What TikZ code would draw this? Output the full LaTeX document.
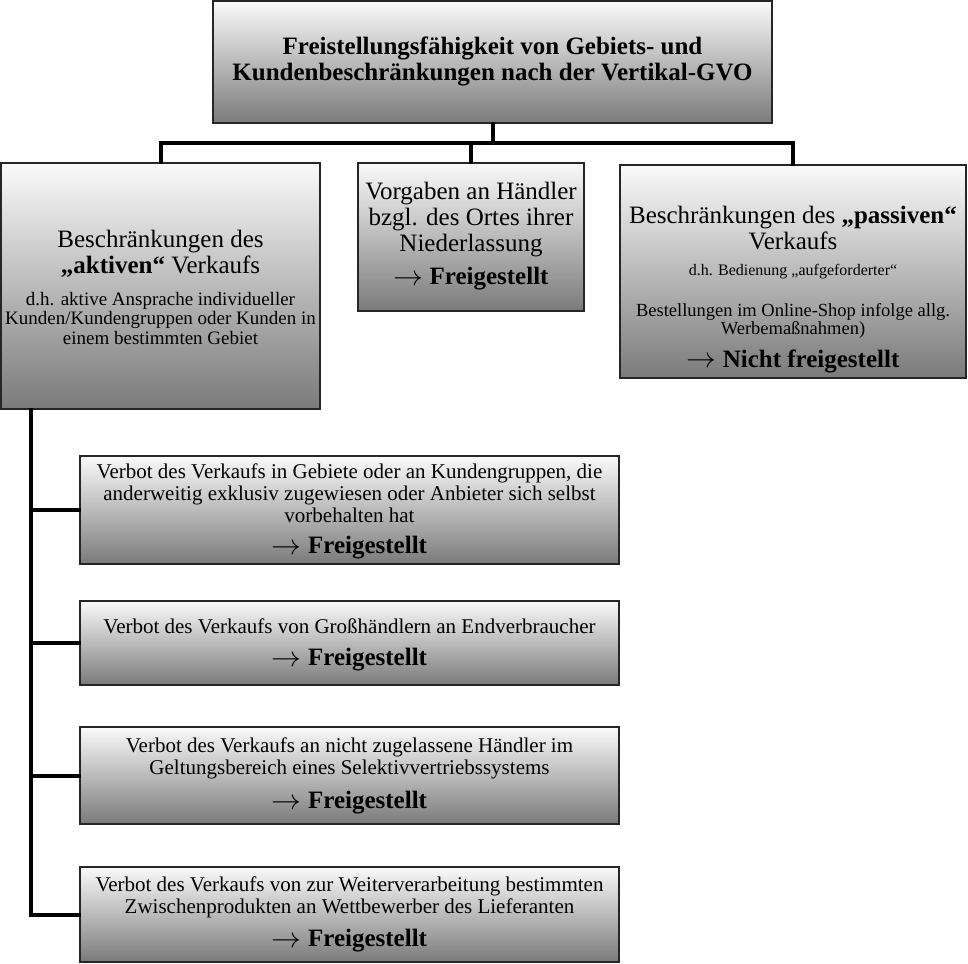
\documentclass[tikz,border=0pt]{standalone}
\usepackage{fontspec}
\setmainfont{Liberation Serif}
\newcommand{\arr}{\raisebox{-0.5pt}{\scalebox{1.2}[1.15]{$\rightarrow$}}\ }
\tikzset{
  box/.style={draw=black!85, line width=2.2pt, inner sep=0pt, top color=black!2, bottom color=black!52, shading angle=0},
  conn/.style={line width=4pt, line join=miter, line cap=rect},
  hd/.style={align=center, inner sep=0pt, font=\fontsize{25}{26}\selectfont},
  sm/.style={align=center, inner sep=0pt, font=\fontsize{19}{19.5}\selectfont},
  sub/.style={align=center, inner sep=0pt, font=\fontsize{21}{22}\selectfont},
  fr/.style={align=center, inner sep=0pt, font=\fontsize{25}{26}\selectfont},
}
\begin{document}
\begin{tikzpicture}[x=1pt,y=-1pt]
\useasboundingbox (0,0) rectangle (968,963);
% boxes
\node[box, minimum width=559pt, minimum height=122pt] (top) at (492.5,62) {};
\node[box, minimum width=319pt, minimum height=246pt] (left) at (160.5,286) {};
\node[box, minimum width=226pt, minimum height=148pt] (mid) at (471,237) {};
\node[box, minimum width=346pt, minimum height=213pt] (right) at (793,271.5) {};
\node[box, minimum width=539pt, minimum height=108pt] (s1) at (349.5,510) {};
\node[box, minimum width=539pt, minimum height=84pt] (s2) at (349.5,643) {};
\node[box, minimum width=539pt, minimum height=97pt] (s3) at (349.5,775.5) {};
\node[box, minimum width=539pt, minimum height=95pt] (s4) at (349.5,914.5) {};
% texts
\node[align=center, inner sep=0pt, font=\fontsize{25}{26}\selectfont\bfseries] (topt) at (492.5,61)
  {Freistellungsfähigkeit von Gebiets- und\\Kundenbeschränkungen nach der Vertikal-GVO};
\node[hd] (lefth) at (160.5,253.5) {Beschränkungen des\\\textbf{„aktiven“} Verkaufs};
\node[sm] (lefts) at (160.5,318) {d.h. aktive Ansprache individueller\\Kunden/Kundengruppen oder Kunden in\\einem bestimmten Gebiet};
\node[hd] (midh) at (471,220) {Vorgaben an Händler\\bzgl. des Ortes ihrer\\Niederlassung};
\node[fr] (midf) at (471,279) {\arr\textbf{Freigestellt}};
\node[hd] (righth) at (793,228.5) {Beschränkungen des \textbf{„passiven“}\\Verkaufs};
\node[align=center, inner sep=0pt, font=\fontsize{16}{17}\selectfont] (rightd) at (793,272) {d.h. Bedienung „aufgeforderter“};
\node[align=center, inner sep=0pt, font=\fontsize{18.5}{18.5}\selectfont] (rightb) at (793,321) {Bestellungen im Online-Shop infolge allg.\\Werbemaßnahmen)};
\node[fr] (rightf) at (793,361) {\arr\textbf{Nicht freigestellt}};
\node[sub] (s1t) at (349.5,493.5) {Verbot des Verkaufs in Gebiete oder an Kundengruppen, die\\anderweitig exklusiv zugewiesen oder Anbieter sich selbst\\vorbehalten hat};
\node[fr] (s1f) at (349.5,548) {\arr\textbf{Freigestellt}};
\node[sub] (s2t) at (349.5,626) {Verbot des Verkaufs von Großhändlern an Endverbraucher};
\node[fr] (s2f) at (349.5,660) {\arr\textbf{Freigestellt}};
\node[sub] (s3t) at (349.5,758.5) {Verbot des Verkaufs an nicht zugelassene Händler im\\Geltungsbereich eines Selektivvertriebssystems};
\node[fr] (s3f) at (349.5,803) {\arr\textbf{Freigestellt}};
\node[sub] (s4t) at (349.5,897.5) {Verbot des Verkaufs von zur Weiterverarbeitung bestimmten\\Zwischenprodukten an Wettbewerber des Lieferanten};
\node[fr] (s4f) at (349.5,941) {\arr\textbf{Freigestellt}};
% connectors
\coordinate (bar) at (492.5,143);
\coordinate (vx) at (31,409);
\draw[conn] (top.south) -- (top.south |- bar);
\draw[conn] (left.north) -- (left.north |- bar) -- (right.north |- bar) -- (right.north);
\draw[conn] (mid.north) -- (mid.north |- bar);
\draw[conn] (vx |- left.south) -- (vx |- s4.west) -- (s4.west);
\draw[conn] (vx |- s1.west) -- (s1.west);
\draw[conn] (vx |- s2.west) -- (s2.west);
\draw[conn] (vx |- s3.west) -- (s3.west);
\end{tikzpicture}
\end{document}
